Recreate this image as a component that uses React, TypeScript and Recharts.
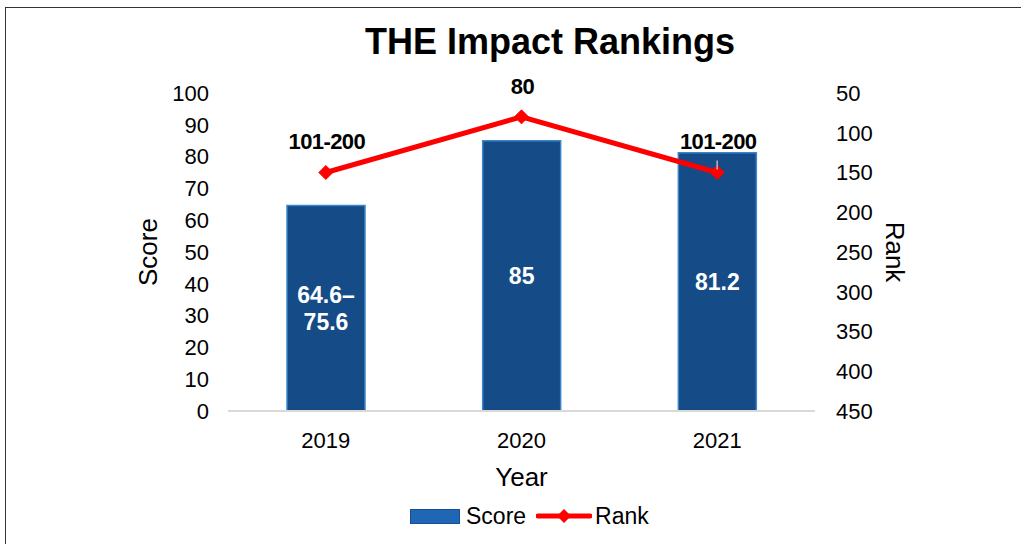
import React from "react";
import {
  ComposedChart,
  Bar,
  Line,
  XAxis,
  YAxis,
  LabelList,
  Label,
} from "recharts";

const years = ["2019", "2020", "2021"];
const scores = [64.6, 85, 81.2];
const scoreLabels = ["64.6–\n75.6", "85", "81.2"];
const ranks = [150, 80, 150];
const rankLabels = ["101-200", "80", "101-200"];
const scoreTicks = [0, 10, 20, 30, 40, 50, 60, 70, 80, 90, 100];
const rankTicks = [50, 100, 150, 200, 250, 300, 350, 400, 450];

const FONT = "'Liberation Sans', Arial, Helvetica, sans-serif";

const data = years.map((year, i) => ({
  year,
  score: scores[i],
  scoreLabel: scoreLabels[i],
  rank: ranks[i],
  rankLabel: rankLabels[i],
}));

// diamond marker for the rank line
const Diamond = (props: any) => {
  const { cx, cy } = props;
  if (cx == null || cy == null) return null;
  const r = 7;
  return (
    <path
      d={`M${cx},${cy - r} L${cx + r},${cy} L${cx},${cy + r} L${cx - r},${cy} Z`}
      fill="#FF0000"
      stroke="#FF0000"
    />
  );
};

const ScoreLabel = (props: any) => {
  const { x, y, width, height, value } = props;
  const lines = String(value).split("\n");
  const cx = x + width / 2;
  const cy = y + height / 2;
  const lh = 27;
  const start = cy - ((lines.length - 1) * lh) / 2;
  return (
    <text
      x={cx}
      textAnchor="middle"
      fill="#fff"
      fontSize={23}
      fontWeight="bold"
      fontFamily={FONT}
    >
      {lines.map((l, i) => (
        <tspan key={i} x={cx} y={start + i * lh} dy="0.36em">
          {l}
        </tspan>
      ))}
    </text>
  );
};

const RankLabel = (props: any) => {
  const { x, y, value, index } = props;
  return (
    <g>
      {index === 2 && (
        <line x1={x} y1={y - 12} x2={x} y2={y - 3} stroke="#bbb" strokeWidth={1.5} />
      )}
      <text
        x={x + 1}
        y={y - 31}
        dy="0.36em"
        textAnchor="middle"
        fill="#000"
        fontSize={22}
        fontWeight="bold"
        fontFamily={FONT}
        letterSpacing={-0.6}
      >
        {value}
      </text>
    </g>
  );
};

export default function App() {
  return (
    <div
      style={{
        position: "absolute",
        left: 0,
        top: 0,
        width: 1021,
        height: 544,
        overflow: "hidden",
        background: "#fff",
        fontFamily: FONT,
      }}
    >
      <div
        style={{
          position: "absolute",
          left: 5,
          top: 7,
          width: 1100,
          height: 700,
          border: "1.5px solid #333",
        }}
      />
      <div
        style={{
          position: "absolute",
          left: 0,
          top: 21,
          width: 1100,
          textAlign: "center",
          fontSize: 36,
          lineHeight: "42px",
          fontWeight: "bold",
          color: "#000",
        }}
      >
        THE Impact Rankings
      </div>
      <div style={{ position: "absolute", left: 0, top: 0 }}>
        <ComposedChart
          width={1021}
          height={544}
          data={data}
          margin={{ top: 93, right: 126, bottom: 53, left: 148 }}
          style={{ fontFamily: FONT }}
        >
          <XAxis
            dataKey="year"
            height={80}
            axisLine={{ stroke: "#d9d9d9", strokeWidth: 2 }}
            tickLine={false}
            tickMargin={15}
            tick={{ fontSize: 22, fill: "#000" }}
          >
            <Label
              value="Year"
              position="insideBottom"
              offset={5}
              style={{ fontSize: 26, fill: "#000" }}
            />
          </XAxis>
          <YAxis
            yAxisId="score"
            width={80}
            domain={[0, 100]}
            ticks={scoreTicks}
            axisLine={false}
            tickLine={false}
            tickMargin={13}
            tick={{ fontSize: 22, fill: "#000" }}
          >
            <Label
              value="Score"
              angle={-90}
              position="insideLeft"
              offset={0}
              style={{ fontSize: 26, fill: "#000", textAnchor: "middle" }}
            />
          </YAxis>
          <YAxis
            yAxisId="rank"
            orientation="right"
            width={80}
            reversed
            domain={[50, 450]}
            ticks={rankTicks}
            axisLine={false}
            tickLine={false}
            tickMargin={15}
            tick={{ fontSize: 22, fill: "#000" }}
          >
            <Label
              value="Rank"
              angle={90}
              position="insideRight"
              offset={0}
              style={{ fontSize: 26, fill: "#000", textAnchor: "middle" }}
            />
          </YAxis>
          <Bar
            yAxisId="score"
            dataKey="score"
            barSize={78}
            fill="#154B87"
            stroke="#3A86CC"
            strokeWidth={1.5}
            isAnimationActive={false}
          >
            <LabelList dataKey="scoreLabel" content={<ScoreLabel />} />
          </Bar>
          <Line
            yAxisId="rank"
            dataKey="rank"
            stroke="#FF0000"
            strokeWidth={5}
            dot={<Diamond />}
            activeDot={false}
            isAnimationActive={false}
          >
            <LabelList dataKey="rankLabel" content={<RankLabel />} />
          </Line>
        </ComposedChart>
      </div>
      <div
        style={{
          position: "absolute",
          left: 410,
          top: 503,
          display: "flex",
          alignItems: "center",
          fontSize: 23,
          color: "#000",
          lineHeight: "26px",
        }}
      >
        <span
          style={{
            display: "inline-block",
            width: 48,
            height: 13,
            background: "#1F66B5",
            border: "1px solid #174F8F",
            marginRight: 6,
          }}
        />
        <span>Score</span>
        <svg width={56} height={20} style={{ marginLeft: 10, marginRight: 3 }}>
          <line x1={2} y1={10} x2={54} y2={10} stroke="#FF0000" strokeWidth={5} strokeLinecap="round" />
          <path d="M28,3 L35,10 L28,17 L21,10 Z" fill="#FF0000" />
        </svg>
        <span>Rank</span>
      </div>
    </div>
  );
}
